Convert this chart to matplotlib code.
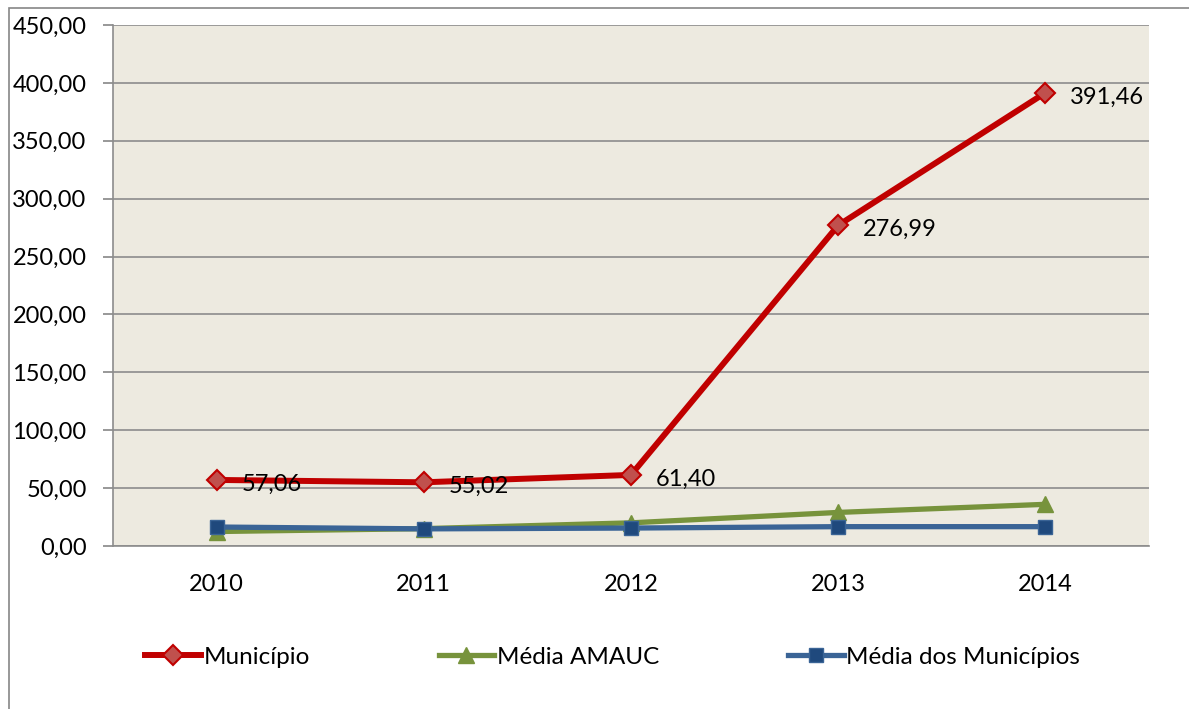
import matplotlib
matplotlib.use("Agg")
import matplotlib.pyplot as plt
from matplotlib.patches import Rectangle

years = ["2010", "2011", "2012", "2013", "2014"]
municipio = [57.06, 55.02, 61.40, 276.99, 391.46]
media_amauc = [12.5, 15.0, 20.0, 29.0, 36.0]
media_municipios = [16.4, 14.8, 15.5, 16.7, 16.7]
labels_series = ["Município", "Média AMAUC", "Média dos Municípios"]
yticks = [0, 50, 100, 150, 200, 250, 300, 350, 400, 450]

plt.rcParams['font.family'] = ['Lato', 'DejaVu Sans']
FS = 17

fig = plt.figure(figsize=(11.89, 7.09), dpi=100)
fig.patch.set_facecolor('white')
# outer chart border
fig.patches.append(Rectangle((9/1189, -0.1), 1.2, 1 - 8/709 + 0.1, transform=fig.transFigure,
                             fill=False, edgecolor='#868686', linewidth=1.2))

ax = fig.add_axes([113/1189, 1 - 546/709, (1149 - 113)/1189, (546 - 25)/709])
ax.set_facecolor('#EDEAE0')
x = list(range(len(years)))

ax.plot(x, municipio, color='#C00000', linewidth=4.3, marker='D', markersize=10.5,
        markerfacecolor='#C0504D', markeredgecolor='#C00000', markeredgewidth=1.5,
        label=labels_series[0], zorder=5)
ax.plot(x, media_amauc, color='#77933C', linewidth=3.8, marker='^', markersize=11,
        markerfacecolor='#77933C', markeredgecolor='#77933C',
        label=labels_series[1], zorder=3)
ax.plot(x, media_municipios, color='#3A6496', linewidth=3.8, marker='s', markersize=10,
        markerfacecolor='#1F497D', markeredgecolor='#3A6496', markeredgewidth=1.0,
        label=labels_series[2], zorder=4)

for xi, v in zip(x, municipio):
    ax.annotate(f"{v:.2f}".replace('.', ','), (xi, v), xytext=(18, -3),
                textcoords='offset points', ha='left', va='center', fontsize=FS, zorder=6)

ax.set_xlim(-0.5, len(years) - 0.5)
ax.set_ylim(0, 450)
ax.set_yticks(yticks)
ax.set_yticklabels([f"{t:.2f}".replace('.', ',') for t in yticks], fontsize=FS)
ax.set_xticks(x)
ax.set_xticklabels(years, fontsize=FS)
ax.tick_params(axis='x', length=0, pad=20)
ax.tick_params(axis='y', length=7, color='#868686', pad=12, width=1.2)
ax.grid(axis='y', color='#8C8C8C', linewidth=1.2)
ax.set_axisbelow(True)
for s in ['top', 'right']:
    ax.spines[s].set_visible(False)
for s in ['left', 'bottom']:
    ax.spines[s].set_color('#8C8C8C')
    ax.spines[s].set_linewidth(1.2)

fig.legend(loc='center left', bbox_to_anchor=(145/1189, 1 - 657/709), ncol=3, frameon=False,
           fontsize=FS + 0.5, handlelength=2.3, handletextpad=0.1, columnspacing=5.3,
           borderaxespad=0, borderpad=0)

fig.savefig('out.png', dpi=100)
